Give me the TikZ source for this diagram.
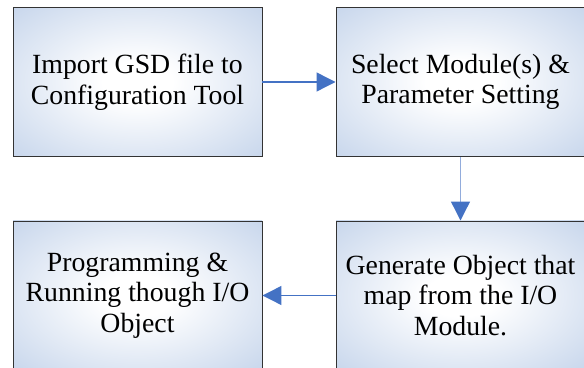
\documentclass[tikz,border=0pt]{standalone}
\usepackage{fontspec}
\setmainfont{Liberation Serif}
\usetikzlibrary{arrows.meta}

\definecolor{boxblue}{RGB}{168,191,225}
\definecolor{arrowblue}{RGB}{68,114,196}
\definecolor{arrowlight}{RGB}{146,172,220}
\pgfdeclareradialshading{boxshade}{\pgfpoint{0bp}{0bp}}{color(0bp)=(white); color(7bp)=(white); color(52bp)=(boxblue); color(100bp)=(boxblue)}

\begin{document}
\begin{tikzpicture}
    \tikzstyle{box_style}=[rectangle, draw=black!80, line width=0.55pt, shading=boxshade, minimum width=4.98cm, minimum height=2.98cm, align=center, inner sep=0pt, font=\fontsize{15.8pt}{17.4pt}\selectfont]
    \tikzstyle{link_style}=[draw=arrowblue, line width=0.75pt, -{Triangle[length=0.38cm, width=0.38cm, color=arrowblue]}]

    \useasboundingbox (0, 0) rectangle (11.68, 7.36);
    \clip (0, 0) rectangle (11.68, 7.36);

    % top row
    \draw node at (2.75, 5.72) [box_style] (box_import) {Import GSD file to\\Configuration Tool};
    \draw node at (9.21, 5.72) [box_style] (box_select) {Select Module(s) \&\\Parameter Setting};

    % bottom row
    \draw node at (2.75, 1.45) [box_style] (box_program) {Programming \&\\Running though I/O\\Object};
    \draw node at (9.21, 1.45) [box_style] (box_generate) {Generate Object that\\map from the I/O\\Module.};

    % connect: import -> select -> generate -> program
    \path[link_style] (box_import) edge node[] {} (box_select);
    \path[link_style, draw=arrowlight] (box_select) edge node[] {} (box_generate);
    \path[link_style] (box_generate) edge node[] {} (box_program);

\end{tikzpicture}
\end{document}
